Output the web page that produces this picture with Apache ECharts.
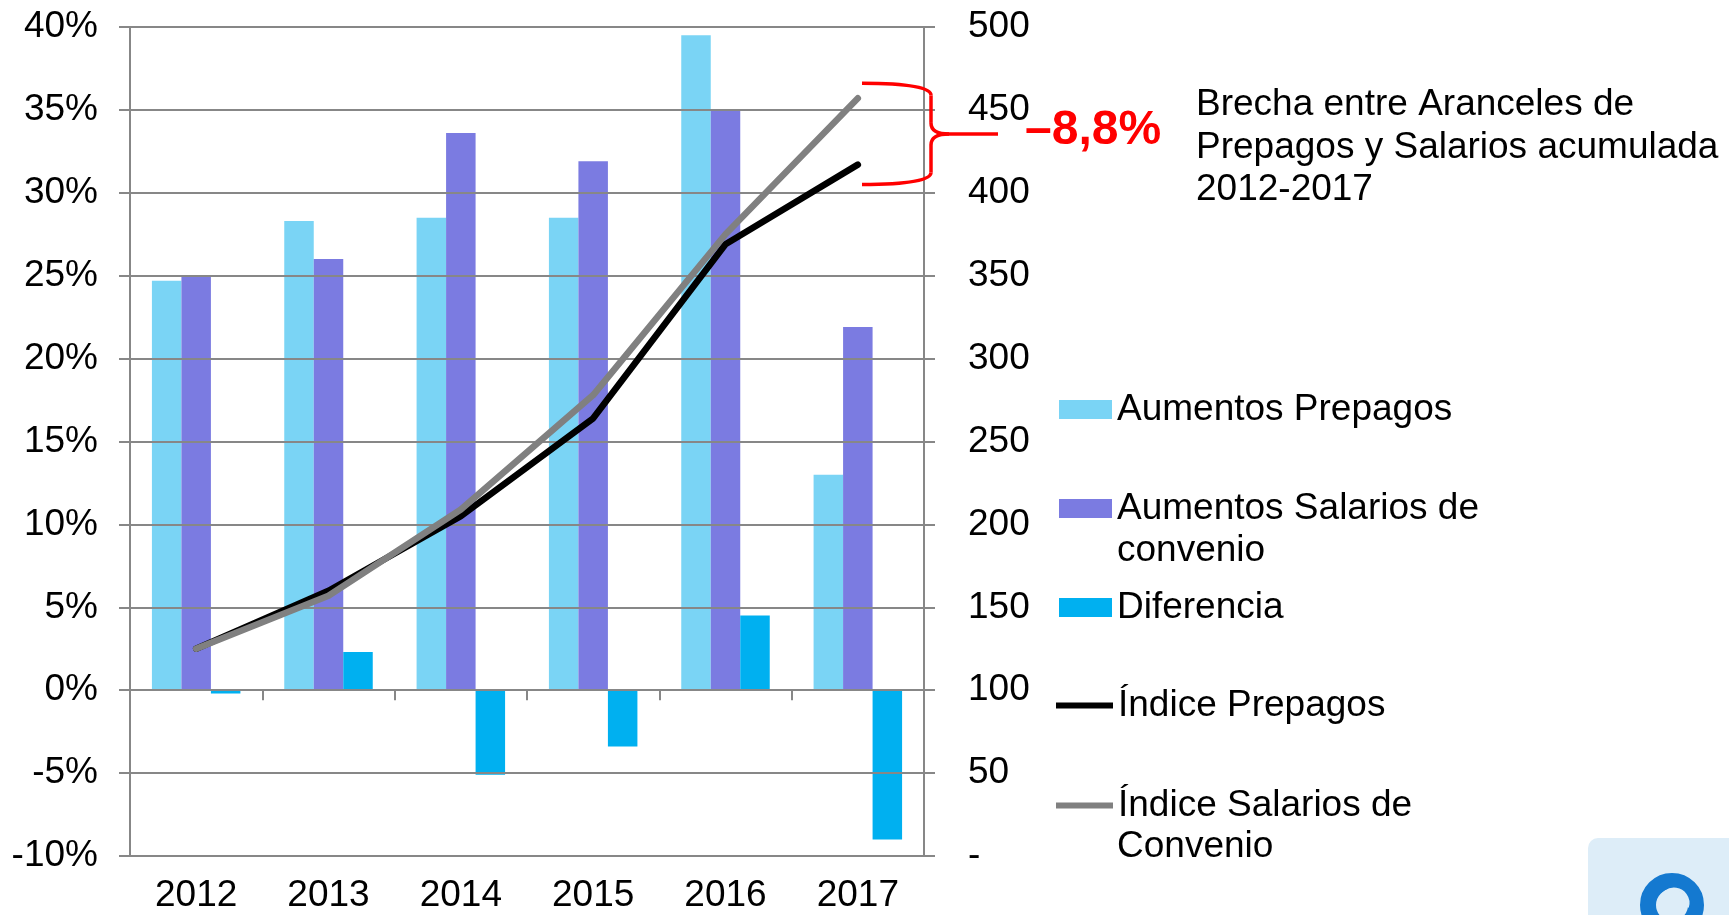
<!DOCTYPE html>
<html>
<head>
<meta charset="utf-8">
<script src="https://cdn.jsdelivr.net/npm/echarts@6/dist/echarts.min.js"></script>
<style>
  html, body { margin: 0; padding: 0; background: #fff; }
  #chart { width: 1729px; height: 915px; }
</style>
</head>
<body>
<div id="chart"></div>
<script>
// datos
var years = ['2012', '2013', '2014', '2015', '2016', '2017'];
var aumentosPrepagos = [24.7, 28.3, 28.5, 28.5, 39.5, 13.0];
var aumentosSalarios = [25.0, 26.0, 33.6, 31.9, 35.0, 21.9];
var diferencia = [-0.2, 2.3, -5.1, -3.4, 4.5, -9.0];
var indicePrepagos = [125, 160, 205, 264, 369, 417];
var indiceSalarios = [125, 157, 209, 278, 375, 457];
var seriesNames = ['Aumentos Prepagos', 'Aumentos Salarios de convenio', 'Diferencia',
                   'Índice Prepagos', 'Índice Salarios de Convenio'];
var legendLines = ['Aumentos Prepagos', 'Aumentos Salarios de', 'Diferencia',
                   'Índice Prepagos', 'Índice Salarios de'];
var brechaText = ['Brecha entre Aranceles de', 'Prepagos y Salarios acumulada', '2012-2017'];
var brechaValue = '\u20138,8%';

var font = '"Liberation Sans", Arial, sans-serif';
var fontSize = 37;
var gridColor = '#878787';
var colors = ['#7AD4F5', '#7B7BE1', '#00B0F0', '#000000', '#808080'];

var myChart = echarts.init(document.getElementById('chart'));

// una leyenda por item para ubicar cada uno
var legendTops = [391, 490, 589, 687, 787];
var legends = [];
for (var i = 0; i < seriesNames.length; i++) {
  var isLine = i >= 3;
  legends.push({
    data: [seriesNames[i]],
    left: isLine ? 1056 : 1059,
    top: legendTops[i],
    padding: 0,
    itemWidth: isLine ? 57 : 53,
    itemHeight: isLine ? 6 : 19,
    itemGap: 5,
    icon: 'rect',
    selectedMode: false,
    formatter: (function (k) { return function () { return legendLines[k]; }; })(i),
    textStyle: { fontFamily: font, fontSize: fontSize, color: '#000' }
  });
}

var barSeries = function (name, data, color) {
  return {
    name: name,
    type: 'bar',
    data: data,
    barWidth: 29.5,
    barGap: '0%',
    itemStyle: { color: color },
    z: 2
  };
};
var lineSeries = function (name, data, color, z) {
  return {
    name: name,
    type: 'line',
    yAxisIndex: 1,
    data: data,
    symbol: 'none',
    lineStyle: { color: color, width: 6.5, cap: 'round', join: 'round' },
    itemStyle: { color: color },
    z: z
  };
};

var option = {
  animation: false,
  backgroundColor: '#fff',
  grid: { left: 130, right: 805, top: 27, bottom: 59 },
  legend: legends,
  xAxis: [{
    type: 'category',
    data: years,
    axisLine: { onZero: true, lineStyle: { color: gridColor, width: 2 } },
    axisTick: { show: true, length: 10, lineStyle: { color: gridColor, width: 2 } },
    axisLabel: { show: false },
    z: 4
  }, {
    type: 'category',
    data: years,
    position: 'bottom',
    axisLine: { show: false, onZero: false },
    axisTick: { show: false },
    axisLabel: { margin: 21, fontFamily: font, fontSize: fontSize, color: '#000' }
  }],
  yAxis: [{
    type: 'value',
    min: -10, max: 40, interval: 5,
    axisLine: { show: true, lineStyle: { color: gridColor, width: 2 } },
    axisTick: { show: true, length: 11, lineStyle: { color: gridColor, width: 2 } },
    splitLine: { show: true, lineStyle: { color: gridColor, width: 2 } },
    axisLabel: { formatter: '{value}%', margin: 32, fontFamily: font, fontSize: fontSize, color: '#000' },
    z: 3
  }, {
    type: 'value',
    min: 0, max: 500, interval: 50,
    axisLine: { show: true, lineStyle: { color: gridColor, width: 2 } },
    axisTick: { show: true, length: 11, lineStyle: { color: gridColor, width: 2 } },
    splitLine: { show: false },
    axisLabel: {
      margin: 44, fontFamily: font, fontSize: fontSize, color: '#000', align: 'left',
      formatter: function (v) { return v === 0 ? '-' : v; }
    },
    z: 3
  }],
  series: [
    barSeries(seriesNames[0], aumentosPrepagos, colors[0]),
    barSeries(seriesNames[1], aumentosSalarios, colors[1]),
    barSeries(seriesNames[2], diferencia, colors[2]),
    lineSeries(seriesNames[3], indicePrepagos, colors[3], 5),
    lineSeries(seriesNames[4], indiceSalarios, colors[4], 6)
  ]
};
myChart.setOption(option);

// llave roja y textos anotados, ubicados a partir de los ultimos indices
var last = years.length - 1;
var yTop = myChart.convertToPixel({ yAxisIndex: 1 }, indiceSalarios[last] + 9);
var yBot = myChart.convertToPixel({ yAxisIndex: 1 }, indicePrepagos[last] - 12);
var yMid = (yTop + yBot) / 2;
var xL = 862, xV = 931, xTip = 998;
var red = { stroke: '#FF0000', lineWidth: 3.5, fill: null };

var curve = function (x1, y1, cx, cy, x2, y2) {
  return { type: 'bezierCurve', shape: { x1: x1, y1: y1, cpx1: cx, cpy1: cy, x2: x2, y2: y2 }, style: red, z: 10 };
};
var seg = function (x1, y1, x2, y2) {
  return { type: 'line', shape: { x1: x1, y1: y1, x2: x2, y2: y2 }, style: red, z: 10 };
};

myChart.setOption({
  graphic: [
    curve(xL, yTop, xV, yTop, xV, yTop + 12),
    seg(xV, yTop + 12, xV, yMid - 11),
    curve(xV, yMid - 11, xV, yMid, xV + 18, yMid),
    seg(xV + 18, yMid, xTip, yMid),
    curve(xV + 18, yMid, xV, yMid, xV, yMid + 11),
    seg(xV, yMid + 11, xV, yBot - 12),
    curve(xV, yBot - 12, xV, yBot, xL, yBot),
    {
      type: 'text', left: 1025, top: yMid - 27,
      style: { text: brechaValue, fill: '#FF0000', fontFamily: font, fontSize: 48, fontWeight: 'bold' },
      z: 10
    },
    {
      type: 'text', left: 1196, top: 84,
      style: { text: brechaText.join('\n'), fill: '#000', fontFamily: font, fontSize: fontSize, lineHeight: 42.5 },
      z: 10
    },
    {
      type: 'text', left: 1117, top: 532,
      style: { text: 'convenio', fill: '#000', fontFamily: font, fontSize: fontSize }
    },
    {
      type: 'text', left: 1117, top: 828,
      style: { text: 'Convenio', fill: '#000', fontFamily: font, fontSize: fontSize }
    },
    // logo
    {
      type: 'rect', shape: { x: 1588, y: 838, width: 160, height: 100, r: 10 },
      style: { fill: '#DDEDF8' }
    },
    {
      type: 'arc', shape: { cx: 1672, cy: 905, r: 24, startAngle: Math.PI * 0.75, endAngle: Math.PI * 2.25 },
      style: { stroke: '#1479D0', lineWidth: 16, fill: null }
    },
    {
      type: 'arc', shape: { cx: 1674, cy: 903, r: 14, startAngle: Math.PI * 0.8, endAngle: Math.PI * 2.1 },
      style: { stroke: '#DDEDF8', lineWidth: 3, fill: null }
    }
  ]
});
</script>
</body>
</html>
